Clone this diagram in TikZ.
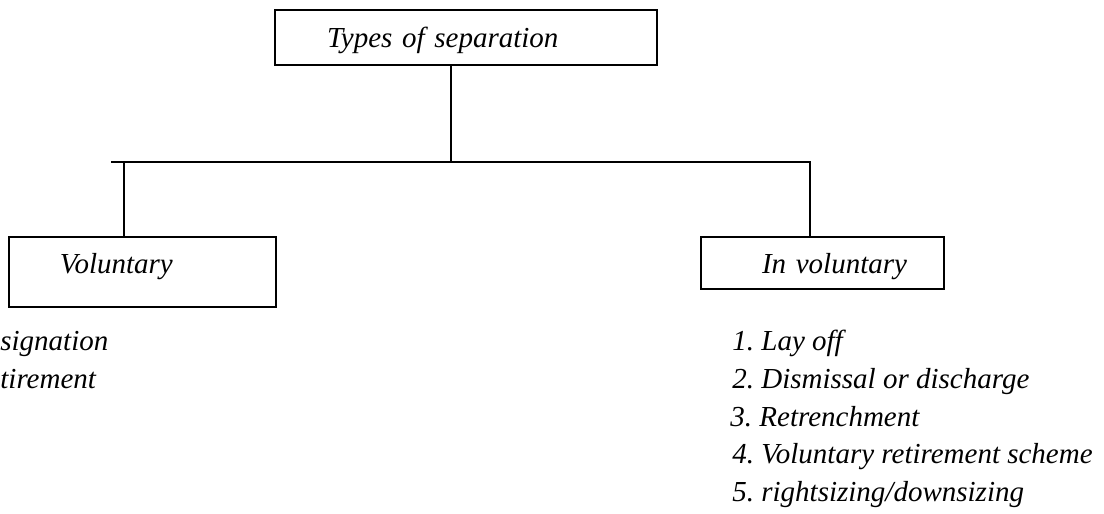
\documentclass[tikz,border=0pt]{standalone}
\usepackage{fontspec}
\setmainfont{Liberation Serif}
\frenchspacing
\begin{document}
\begin{tikzpicture}[x=0.5pt,y=-0.5pt,
  every node/.style={font=\fontsize{14.5}{17}\selectfont\itshape},
  box/.style={draw, line width=0.9pt, inner xsep=0pt, inner ysep=0pt, align=left},
  listitem/.style={anchor=base west, inner sep=0pt},
  link/.style={line width=0.9pt}]
\useasboundingbox (0,0) rectangle (1104,514);

% category boxes
\node[box, text width=191pt, minimum height=27.5pt, text height=10pt, text depth=0.5pt]
  (top) at (466,37.5) {\hspace*{26pt}Types of separation};
\node[box, text width=133.5pt, minimum height=35pt, text height=10pt, text depth=9pt]
  (vol) at (142.5,272) {\hspace*{25.5pt}Voluntary};
\node[box, text width=121.5pt, minimum height=26pt, text height=10pt, text depth=0pt]
  (inv) at (822.5,263) {\hspace*{30.5pt}In voluntary};

% branching bus
\coordinate (busL) at (111,162);
\coordinate (jTop) at (451,162);
\coordinate (jL)   at (124,162);
\coordinate (jR)   at (810,162);
\draw[link] (top.south -| jTop) -- (jTop);
\draw[link] (busL) -- (jR) -- (inv.north -| jR);
\draw[link] (jL) -- (vol.north -| jL);

% voluntary forms
\node[listitem] (v1) at (0,350) {signation};
\node[listitem] (v2) at (0,388) {tirement};

% involuntary forms
\node[listitem] (i1) at (732,350) {1. Lay off};
\node[listitem] (i2) at (732,388) {2. Dismissal or discharge};
\node[listitem] (i3) at (730,426) {3. Retrenchment};
\node[listitem] (i4) at (732,463) {4. Voluntary retirement scheme};
\node[listitem] (i5) at (732,501) {5. rightsizing/downsizing};
\end{tikzpicture}
\end{document}
